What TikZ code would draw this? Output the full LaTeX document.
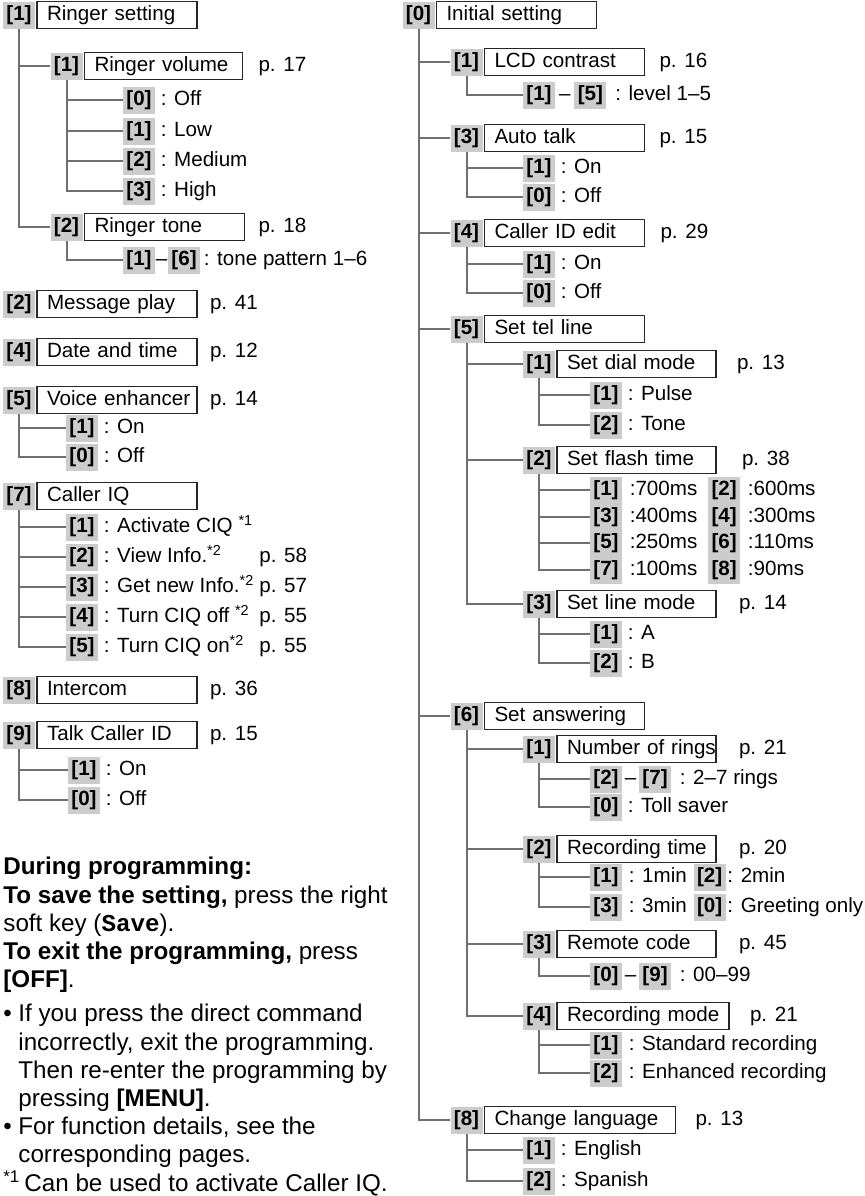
\documentclass[tikz,border=0pt]{standalone}
\usepackage{fontspec}
\setmainfont{Liberation Sans}
\setmonofont{Liberation Mono}
\usepackage{tikz}
\usetikzlibrary{positioning}

\definecolor{keygray}{RGB}{204,204,204}
\definecolor{linegray}{RGB}{112,112,112}
\newcommand{\treefont}{\fontsize{10.3}{12}\selectfont}
\newcommand{\notefont}{\fontsize{12.1}{14.1}\selectfont}

\begin{document}
\begin{tikzpicture}[x=0.5pt, y=-0.5pt,
  key/.style={fill=keygray, inner sep=0pt, minimum width=16pt, minimum height=13.5pt,
              text height=7.5pt, text depth=2pt, font=\treefont\bfseries},
  item/.style={draw=black!85, line width=0.6pt, text width=70pt, inner xsep=5pt,
               inner ysep=0pt, minimum height=13.5pt, align=left,
               text height=7.5pt, text depth=2pt, font=\treefont,
               execute at begin node={\hbox\bgroup}, execute at end node={\egroup}},
  txt/.style={inner sep=0pt, text height=7.5pt, text depth=2pt, font=\treefont},
  page/.style={txt},
  tree/.style={draw=linegray, line width=1pt}
]
\useasboundingbox (0,0) rectangle (865,1196);
%% RINGER SETTING
\node[key] (k1) at (19,15) {[1]};
\node[item,right=0.5pt of k1] (ring) {Ringer setting};
\node[key] (k11) at (66.5,66) {[1]};
\node[item,right=0.5pt of k11,text width=69pt] (vol) {Ringer volume};
\node[page,right=7.5pt of vol] (pvol) {p. 17};
\node[key] (vol0) at (139,100) {[0]}; \node[txt,right=2.5pt of vol0] (vol0t) {: Off};
\node[key] (vol1) at (139,131) {[1]}; \node[txt,right=2.5pt of vol1] (vol1t) {: Low};
\node[key] (vol2) at (139,161) {[2]}; \node[txt,right=2.5pt of vol2] (vol2t) {: Medium};
\node[key] (vol3) at (139,191) {[3]}; \node[txt,right=2.5pt of vol3] (vol3t) {: High};
\node[key] (k12) at (66.5,227) {[2]};
\node[item,right=0.5pt of k12] (tone) {Ringer tone};
\node[page,right=6.5pt of tone] (ptone) {p. 18};
\node[key] (tonea) at (139,260) {[1]};
\node[txt,right=0pt of tonea] (toned) {–};
\node[key,right=0pt of toned] (toneb) {[6]};
\node[txt,right=1.5pt of toneb] (tonet) {: tone pattern 1–6};
\draw[tree](k1.south)|-(k11.west); \draw[tree](k1.south)|-(k12.west);
\draw[tree](k11.south)|-(vol0.west); \draw[tree](k11.south)|-(vol1.west);
\draw[tree](k11.south)|-(vol2.west); \draw[tree](k11.south)|-(vol3.west);
\draw[tree](k12.south)|-(tonea.west);
%% MESSAGE PLAY, DATE AND TIME
\node[key] (k2) at (19,304) {[2]};
\node[item,right=0.5pt of k2] (msg) {Message play};
\node[page,right=6pt of msg] (pmsg) {p. 41};
\node[key] (k4) at (19,352) {[4]};
\node[item,right=0.5pt of k4] (date) {Date and time};
\node[page,right=6pt of date] (pdate) {p. 12};
%% VOICE ENHANCER
\node[key] (k5) at (19,400) {[5]};
\node[item,right=0.5pt of k5] (voice) {Voice enhancer};
\node[page,right=6pt of voice] (pvoice) {p. 14};
\node[key] (voi1) at (82,428) {[1]}; \node[txt,right=2.5pt of voi1] (voi1t) {: On};
\node[key] (voi0) at (82,457) {[0]}; \node[txt,right=2.5pt of voi0] (voi0t) {: Off};
\draw[tree](k5.south)|-(voi1.west); \draw[tree](k5.south)|-(voi0.west);
%% CALLER IQ
\node[key] (k7) at (19,496) {[7]};
\node[item,right=0.5pt of k7] (ciq) {Caller IQ};
\node[key] (ciq1) at (82,527) {[1]}; \node[txt,right=2.5pt of ciq1] (ciq1t) {: Activate CIQ \textsuperscript{*1}};
\node[key] (ciq2) at (82,557) {[2]}; \node[txt,right=2.5pt of ciq2] (ciq2t) {: View Info.\textsuperscript{*2}};
\node[key] (ciq3) at (82,587) {[3]}; \node[txt,right=2.5pt of ciq3] (ciq3t) {: Get new Info.\textsuperscript{*2}};
\node[key] (ciq4) at (82,617) {[4]}; \node[txt,right=2.5pt of ciq4] (ciq4t) {: Turn CIQ off \textsuperscript{*2}};
\node[key] (ciq5) at (82,647) {[5]}; \node[txt,right=2.5pt of ciq5] (ciq5t) {: Turn CIQ on\textsuperscript{*2}};
\node[page,anchor=west] (pciq2) at (259,557) {p. 58};
\node[page,anchor=west] (pciq3) at (259,587) {p. 57};
\node[page,anchor=west] (pciq4) at (259,617) {p. 55};
\node[page,anchor=west] (pciq5) at (259,647) {p. 55};
\draw[tree](k7.south)|-(ciq1.west); \draw[tree](k7.south)|-(ciq2.west);
\draw[tree](k7.south)|-(ciq3.west); \draw[tree](k7.south)|-(ciq4.west);
\draw[tree](k7.south)|-(ciq5.west);
%% INTERCOM, TALK CALLER ID
\node[key] (k8) at (19,690) {[8]};
\node[item,right=0.5pt of k8] (icom) {Intercom};
\node[page,right=6pt of icom] (picom) {p. 36};
\node[key] (k9) at (19,735) {[9]};
\node[item,right=0.5pt of k9] (talk) {Talk Caller ID};
\node[page,right=6pt of talk] (ptalk) {p. 15};
\node[key] (talk1) at (84,770) {[1]}; \node[txt,right=2.5pt of talk1] (talk1t) {: On};
\node[key] (talk0) at (84,800) {[0]}; \node[txt,right=2.5pt of talk0] (talk0t) {: Off};
\draw[tree](k9.south)|-(talk1.west); \draw[tree](k9.south)|-(talk0.west);
%% NOTES
\node[anchor=north west,inner sep=0pt,align=left,font=\notefont] (note) at (3,857) {%
  \textbf{During programming:}\\
  \textbf{To save the setting,} press the right\\
  soft key (\texttt{\bfseries Save}).\\
  \textbf{To exit the programming,} press\\
  \textbf{[OFF]}.\\[3pt]
  \makebox[7.5pt][l]{\textbullet}If you press the direct command\\
  \hspace*{7.5pt}incorrectly, exit the programming.\\
  \hspace*{7.5pt}Then re-enter the programming by\\
  \hspace*{7.5pt}pressing \textbf{[MENU]}.\\
  \makebox[7.5pt][l]{\textbullet}For function details, see the\\
  \hspace*{7.5pt}corresponding pages.\\
  \textsuperscript{*1}\,Can be used to activate Caller IQ.};
%% INITIAL SETTING
\node[key] (r0) at (418.5,15) {[0]};
\node[item,right=0.5pt of r0] (init) {Initial setting};
\node[key] (r1) at (466.5,62) {[1]};
\node[item,right=0.5pt of r1] (lcd) {LCD contrast};
\node[page,right=7pt of lcd] (plcd) {p. 16};
\node[key] (lcda) at (539,95) {[1]};
\node[txt,right=0pt of lcda,inner xsep=1.6pt] (lcdd) {–};
\node[key,right=0pt of lcdd] (lcdb) {[5]};
\node[txt,right=4pt of lcdb] (lcdt) {: level 1–5};
\node[key] (r3) at (466.5,138) {[3]};
\node[item,right=0.5pt of r3] (auto) {Auto talk};
\node[page,right=7pt of auto] (pauto) {p. 15};
\node[key] (auto1) at (539,168) {[1]}; \node[txt,right=2.5pt of auto1] (auto1t) {: On};
\node[key] (auto0) at (539,197) {[0]}; \node[txt,right=2.5pt of auto0] (auto0t) {: Off};
\node[key] (r4) at (466.5,233) {[4]};
\node[item,right=0.5pt of r4] (edit) {Caller ID edit};
\node[page,right=7.5pt of edit] (pedit) {p. 29};
\node[key] (edit1) at (539,264) {[1]}; \node[txt,right=2.5pt of edit1] (edit1t) {: On};
\node[key] (edit0) at (539,293) {[0]}; \node[txt,right=2.5pt of edit0] (edit0t) {: Off};
\draw[tree](r1.south)|-(lcda.west);
\draw[tree](r3.south)|-(auto1.west); \draw[tree](r3.south)|-(auto0.west);
\draw[tree](r4.south)|-(edit1.west); \draw[tree](r4.south)|-(edit0.west);
%% SET TEL LINE
\node[key] (r5) at (466.5,329) {[5]};
\node[item,right=0.5pt of r5] (tel) {Set tel line};
\node[key] (r51) at (539,364) {[1]};
\node[item,right=0.5pt of r51,text width=69.5pt] (dial) {Set dial mode};
\node[page,right=10pt of dial] (pdial) {p. 13};
\node[key] (dial1) at (606,395) {[1]}; \node[txt,right=2.5pt of dial1] (dial1t) {: Pulse};
\node[key] (dial2) at (606,425) {[2]}; \node[txt,right=2.5pt of dial2] (dial2t) {: Tone};
\node[key] (r52) at (539,460) {[2]};
\node[item,right=0.5pt of r52,text width=69.5pt] (flash) {Set flash time};
\node[page,right=12.5pt of flash] (pflash) {p. 38};
\node[key] (fla1) at (606,490) {[1]}; \node[txt,right=3.5pt of fla1] (fla1t) {:700ms};
\node[key,right=5pt of fla1t] (fla2) {[2]}; \node[txt,right=3.5pt of fla2] (fla2t) {:600ms};
\node[key] (fla3) at (606,517) {[3]}; \node[txt,right=3.5pt of fla3] (fla3t) {:400ms};
\node[key,right=5pt of fla3t] (fla4) {[4]}; \node[txt,right=3.5pt of fla4] (fla4t) {:300ms};
\node[key] (fla5) at (606,543) {[5]}; \node[txt,right=3.5pt of fla5] (fla5t) {:250ms};
\node[key,right=5pt of fla5t] (fla6) {[6]}; \node[txt,right=3.5pt of fla6] (fla6t) {:110ms};
\node[key] (fla7) at (606,570) {[7]}; \node[txt,right=3.5pt of fla7] (fla7t) {:100ms};
\node[key,right=5pt of fla7t] (fla8) {[8]}; \node[txt,right=3.5pt of fla8] (fla8t) {:90ms};
\node[key] (r53) at (539,604) {[3]};
\node[item,right=0.5pt of r53,text width=69.5pt] (lmode) {Set line mode};
\node[page,right=11pt of lmode] (plmode) {p. 14};
\node[key] (lmo1) at (606,634) {[1]}; \node[txt,right=2.5pt of lmo1] (lmo1t) {: A};
\node[key] (lmo2) at (606,663) {[2]}; \node[txt,right=2.5pt of lmo2] (lmo2t) {: B};
\draw[tree](r5.south)|-(r51.west); \draw[tree](r5.south)|-(r52.west); \draw[tree](r5.south)|-(r53.west);
\draw[tree](r51.south)|-(dial1.west); \draw[tree](r51.south)|-(dial2.west);
\draw[tree](r52.south)|-(fla1.west); \draw[tree](r52.south)|-(fla3.west);
\draw[tree](r52.south)|-(fla5.west); \draw[tree](r52.south)|-(fla7.west);
\draw[tree](r53.south)|-(lmo1.west); \draw[tree](r53.south)|-(lmo2.west);
%% SET ANSWERING
\node[key] (r6) at (466.5,716) {[6]};
\node[item,right=0.5pt of r6] (ans) {Set answering};
\node[key] (r61) at (539,749) {[1]};
\node[item,right=0.5pt of r61,text width=69.5pt] (rings) {Number of rings};
\node[page,right=11pt of rings] (prings) {p. 21};
\node[key] (rina) at (606,779) {[2]};
\node[txt,right=0pt of rina,inner xsep=1pt] (rind) {–};
\node[key,right=0pt of rind] (rinb) {[7]};
\node[txt,right=4pt of rinb] (rint) {: 2–7 rings};
\node[key] (rin0) at (606,807) {[0]}; \node[txt,right=2.5pt of rin0] (rin0t) {: Toll saver};
\node[key] (r62) at (539,849) {[2]};
\node[item,right=0.5pt of r62,text width=69.5pt] (rtime) {Recording time};
\node[page,right=11pt of rtime] (prtime) {p. 20};
\node[key] (rti1) at (606,877) {[1]}; \node[txt,right=3pt of rti1] (rti1t) {: 1min};
\node[key,right=3pt of rti1t] (rti2) {[2]}; \node[txt,right=0.5pt of rti2] (rti2t) {: 2min};
\node[key] (rti3) at (606,907) {[3]}; \node[txt,right=3pt of rti3] (rti3t) {: 3min};
\node[key,right=3pt of rti3t] (rti0) {[0]}; \node[txt,right=0.5pt of rti0] (rti0t) {: Greeting only};
\node[key] (r63) at (539,944) {[3]};
\node[item,right=0.5pt of r63,text width=69.5pt] (remote) {Remote code};
\node[page,right=11pt of remote] (premote) {p. 45};
\node[key] (rema) at (606,976) {[0]};
\node[txt,right=0pt of rema,inner xsep=1pt] (remd) {–};
\node[key,right=0pt of remd] (remb) {[9]};
\node[txt,right=4pt of remb] (remt) {: 00–99};
\node[key] (r64) at (539,1016) {[4]};
\node[item,right=0.5pt of r64,text width=76pt] (rmode) {Recording mode};
\node[page,right=10pt of rmode] (prmode) {p. 21};
\node[key] (rmo1) at (606,1045) {[1]}; \node[txt,right=3pt of rmo1] (rmo1t) {: Standard recording};
\node[key] (rmo2) at (606,1073) {[2]}; \node[txt,right=3pt of rmo2] (rmo2t) {: Enhanced recording};
\draw[tree](r6.south)|-(r61.west); \draw[tree](r6.south)|-(r62.west);
\draw[tree](r6.south)|-(r63.west); \draw[tree](r6.south)|-(r64.west);
\draw[tree](r61.south)|-(rina.west); \draw[tree](r61.south)|-(rin0.west);
\draw[tree](r62.south)|-(rti1.west); \draw[tree](r62.south)|-(rti3.west);
\draw[tree](r63.south)|-(rema.west);
\draw[tree](r64.south)|-(rmo1.west); \draw[tree](r64.south)|-(rmo2.west);
%% CHANGE LANGUAGE
\node[key] (r8) at (466.5,1120) {[8]};
\node[item,right=0.5pt of r8,text width=85.5pt] (lang) {Change language};
\node[page,right=9.5pt of lang] (plang) {p. 13};
\node[key] (lang1) at (539,1150) {[1]}; \node[txt,right=2.5pt of lang1] (lang1t) {: English};
\node[key] (lang2) at (539,1181) {[2]}; \node[txt,right=2.5pt of lang2] (lang2t) {: Spanish};
\draw[tree](r8.south)|-(lang1.west); \draw[tree](r8.south)|-(lang2.west);
%% INITIAL SETTING TRUNK
\draw[tree](r0.south)|-(r1.west); \draw[tree](r0.south)|-(r3.west);
\draw[tree](r0.south)|-(r4.west); \draw[tree](r0.south)|-(r5.west);
\draw[tree](r0.south)|-(r6.west); \draw[tree](r0.south)|-(r8.west);
\end{tikzpicture}
\end{document}
